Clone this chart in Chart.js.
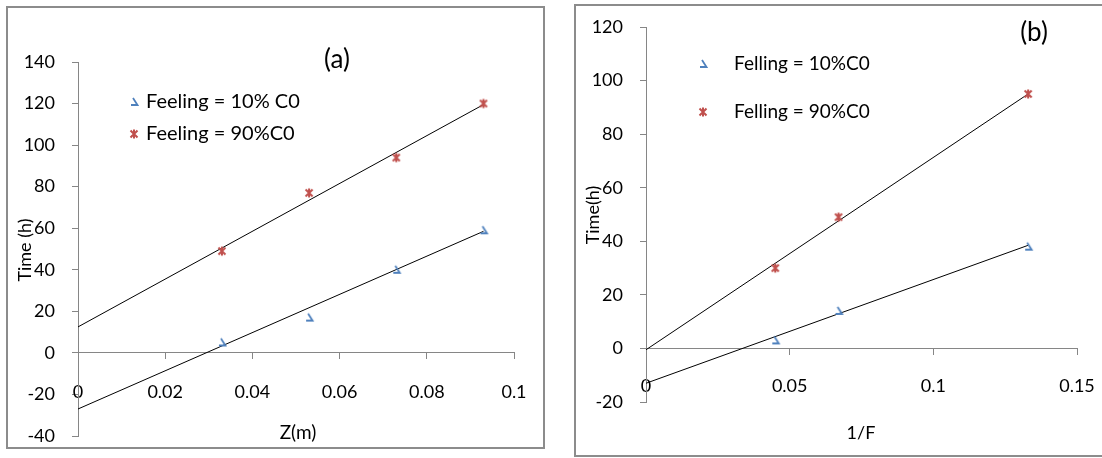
<!DOCTYPE html>
<html>
<head>
<meta charset="utf-8">
<script src="https://cdn.jsdelivr.net/npm/chart.js@4.4.1/dist/chart.umd.min.js"></script>
<style>
  body { margin: 0; background: #fff; width: 1102px; height: 458px; overflow: hidden; position: relative; }
  .box { position: absolute; border: 2px solid #8c8c8c; box-sizing: border-box; }
  canvas { position: absolute; top: 0; }
</style>
</head>
<body>
<div class="box" style="left:6px;top:6px;width:539px;height:443px"></div>
<div class="box" style="left:574px;top:4px;width:540px;height:453px"></div>
<canvas id="chartA" width="560" height="458" style="left:0;width:560px;height:458px"></canvas>
<canvas id="chartB" width="542" height="458" style="left:560px;width:542px;height:458px"></canvas>
<script>
// (a) Time vs Z
const zA = [0.033, 0.053, 0.073, 0.093];
const time10A = [5, 17, 40, 59];
const time90A = [49, 77, 94, 120];
const trendXA = [0, 0.093];
const trend10A = [-27, 58.5];
const trend90A = [12.5, 119.5];
const xTicksA = [0, 0.02, 0.04, 0.06, 0.08, 0.1];
const yTicksA = [-40, -20, 0, 20, 40, 60, 80, 100, 120, 140];

// (b) Time vs 1/F
const invFB = [0.045, 0.067, 0.133];
const time10B = [3, 14, 38];
const time90B = [30, 49, 95];
const trendXB = [0, 0.133];
const trend10B = [-13, 38.5];
const trend90B = [-0.5, 95];
const xTicksB = [0, 0.05, 0.1, 0.15];
const yTicksB = [-20, 0, 20, 40, 60, 80, 100, 120];

const FAMILY = 'Lato, "Open Sans", sans-serif';
const axisColor = '#868686';

// Excel-ish markers
function hookMarker() {
    const c = document.createElement('canvas');
    c.width = 12; c.height = 12;
    const g = c.getContext('2d');
    g.strokeStyle = '#4f81bd';
    g.lineWidth = 1.8;
    g.beginPath();
    g.moveTo(5, 2); g.lineTo(9.5, 9); g.lineTo(3, 9);
    g.stroke();
    return c;
}
function starMarker() {
    const c = document.createElement('canvas');
    c.width = 12; c.height = 12;
    const g = c.getContext('2d');
    g.strokeStyle = '#c0504d';
    g.lineWidth = 2;
    g.beginPath();
    g.moveTo(2.5, 2.5); g.lineTo(9.5, 9.5);
    g.moveTo(9.5, 2.5); g.lineTo(2.5, 9.5);
    g.moveTo(6, 1.5); g.lineTo(6, 10.5);
    g.stroke();
    return c;
}
const hook = hookMarker();
const star = starMarker();

const pts = (xs, ys) => xs.map((x, i) => ({ x: x, y: ys[i] }));

const textPlugin = {
    id: 'texts',
    afterDraw(chart, args, opts) {
        const ctx = chart.ctx;
        ctx.save();
        ctx.fillStyle = '#000';
        ctx.textBaseline = 'middle';
        opts.items.forEach(t => {
            ctx.save();
            ctx.font = t.font;
            ctx.textAlign = 'center';
            ctx.translate(t.x, t.y);
            if (t.rotate) ctx.rotate(t.rotate);
            ctx.fillText(t.text, 0, 0);
            ctx.restore();
        });
        ctx.font = opts.legendFont;
        ctx.textAlign = 'left';
        opts.legend.forEach((l, i) => {
            const ds = chart.data.datasets[i];
            ctx.drawImage(ds.pointStyle, l.mx - 6, l.y - 6);
            ctx.fillText(ds.label, l.tx, l.y);
        });
        ctx.restore();
    }
};

function axes(xTicks, yTicks, yWidth, xPad, yPad) {
    const tickFont = { family: FAMILY, size: 18 };
    return {
        x: {
            type: 'linear',
            position: { y: 0 },
            min: xTicks[0],
            max: xTicks[xTicks.length - 1],
            afterBuildTicks: s => { s.ticks = xTicks.map(v => ({ value: v })); },
            // let layout.padding alone decide the plot area
            afterFit: s => { s.paddingLeft = 0; s.paddingRight = 0; },
            grid: { drawOnChartArea: false, tickLength: 6, color: axisColor },
            border: { color: axisColor },
            ticks: { padding: xPad, color: '#000', font: tickFont, maxRotation: 0, autoSkip: false, callback: v => String(v) }
        },
        y: {
            type: 'linear',
            position: 'left',
            min: yTicks[0],
            max: yTicks[yTicks.length - 1],
            afterBuildTicks: s => { s.ticks = yTicks.map(v => ({ value: v })); },
            afterFit: s => { s.width = yWidth; s.paddingTop = 0; s.paddingBottom = 0; },
            grid: { drawOnChartArea: false, tickLength: 6, color: axisColor },
            border: { color: axisColor },
            ticks: { padding: yPad, color: '#000', font: tickFont, callback: v => String(v) }
        }
    };
}

function markerSet(label, xs, ys, img) {
    return { label: label, data: pts(xs, ys), pointStyle: img, pointRadius: 6, showLine: false };
}
function trendSet(xs, ys) {
    return { label: '', data: pts(xs, ys), showLine: true, borderColor: '#000', borderWidth: 1, pointRadius: 0 };
}

// Chart (a)
new Chart(document.getElementById('chartA'), {
    type: 'scatter',
    data: {
        datasets: [
            markerSet('Feeling = 10% C0', zA, time10A, hook),
            markerSet('Feeling = 90%C0', zA, time90A, star),
            trendSet(trendXA, trend10A),
            trendSet(trendXA, trend90A)
        ]
    },
    options: {
        responsive: false,
        animation: false,
        layout: { padding: { left: 0, right: 46, top: 62, bottom: 22 } },
        scales: axes(xTicksA, yTicksA, 78, 22, 17),
        plugins: {
            legend: { display: false },
            tooltip: { enabled: false },
            texts: {
                legendFont: '20px ' + FAMILY,
                legend: [{ mx: 134, tx: 146, y: 102 }, { mx: 134, tx: 146, y: 134 }],
                items: [
                    { text: '(a)', x: 337, y: 60, font: '26px ' + FAMILY },
                    { text: 'Time (h)', x: 25, y: 250, font: '18px ' + FAMILY, rotate: -Math.PI / 2 },
                    { text: 'Z(m)', x: 298, y: 433, font: '19px ' + FAMILY }
                ]
            }
        }
    },
    plugins: [textPlugin]
});

// Chart (b)
new Chart(document.getElementById('chartB'), {
    type: 'scatter',
    data: {
        datasets: [
            markerSet('Felling = 10%C0', invFB, time10B, hook),
            markerSet('Felling = 90%C0', invFB, time90B, star),
            trendSet(trendXB, trend10B),
            trendSet(trendXB, trend90B)
        ]
    },
    options: {
        responsive: false,
        animation: false,
        layout: { padding: { left: 0, right: 25, top: 27, bottom: 56 } },
        scales: axes(xTicksB, yTicksB, 86, 21, 17),
        plugins: {
            legend: { display: false },
            tooltip: { enabled: false },
            texts: {
                legendFont: '19px ' + FAMILY,
                legend: [{ mx: 143, tx: 174, y: 64 }, { mx: 143, tx: 174, y: 112 }],
                items: [
                    { text: '(b)', x: 474, y: 33, font: '26px ' + FAMILY },
                    { text: 'Time(h)', x: 33, y: 215, font: '18px ' + FAMILY, rotate: -Math.PI / 2 },
                    { text: '1/F', x: 301, y: 433, font: '18px ' + FAMILY }
                ]
            }
        }
    },
    plugins: [textPlugin]
});
</script>
</body>
</html>
